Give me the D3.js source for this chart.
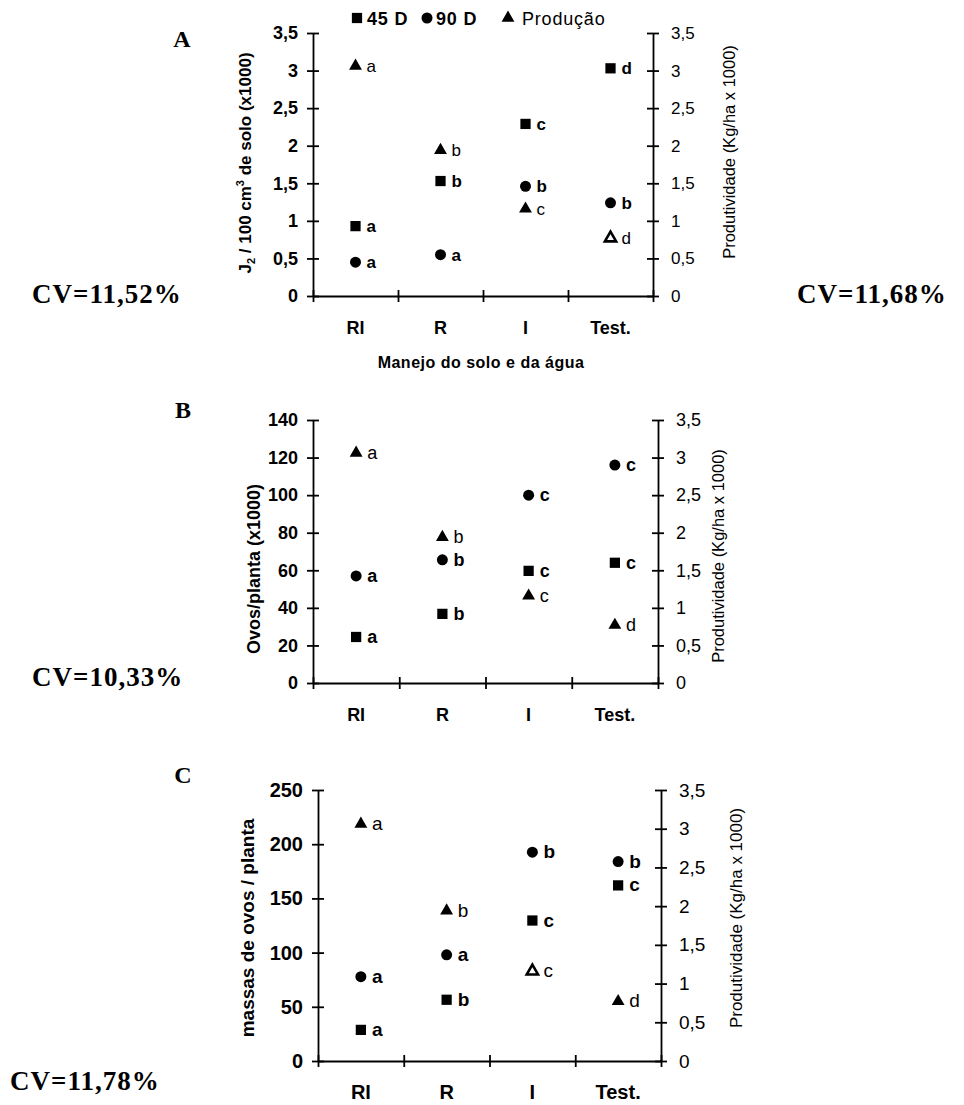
<!DOCTYPE html>
<html>
<head>
<meta charset="utf-8">
<script src="https://cdn.jsdelivr.net/npm/d3@7"></script>
<style>
body { margin: 0; background: #fff; }
svg { display: block; }
</style>
</head>
<body>
<div id="chart"></div>
<script>
// categorias - manejo do solo e da água
var categories = ["RI", "R", "I", "Test."];

// produção (Kg/ha x 1000) - eixo direito, igual nos 3 painéis
var production = [3.06, 1.94, 1.16, 0.77];
var productionLetters = ["a", "b", "c", "d"];
var rightTicks = [0, 0.5, 1, 1.5, 2, 2.5, 3, 3.5];

// A - J2 / 100 cm3 de solo (x1000)
var j2_45 = [0.93, 1.53, 2.29, 3.03];
var j2_45Letters = ["a", "b", "c", "d"];
var j2_90 = [0.45, 0.55, 1.46, 1.24];
var j2_90Letters = ["a", "a", "b", "b"];
var ticksA = [0, 0.5, 1, 1.5, 2, 2.5, 3, 3.5];

// B - ovos/planta (x1000)
var ovos_45 = [24.5, 36.8, 59.7, 64];
var ovos_45Letters = ["a", "b", "c", "c"];
var ovos_90 = [57, 65.6, 100, 116];
var ovos_90Letters = ["a", "b", "c", "c"];
var ticksB = [0, 20, 40, 60, 80, 100, 120, 140];

// C - massas de ovos / planta
var massas_45 = [28.7, 56.5, 129.6, 162];
var massas_45Letters = ["a", "b", "c", "c"];
var massas_90 = [77.8, 98, 192.6, 184];
var massas_90Letters = ["a", "a", "b", "b"];
var ticksC = [0, 50, 100, 150, 200, 250];

var cvLabels = ["CV=11,52%", "CV=11,68%", "CV=10,33%", "CV=11,78%"];

var sans = "'Liberation Sans', Arial, sans-serif";
var serif = "'Liberation Serif', 'Times New Roman', serif";

var svg = d3.select("#chart")
    .append("svg")
    .attr("width", 964)
    .attr("height", 1105);

svg.append("rect").attr("width", 964).attr("height", 1105).attr("fill", "#fff");

var comma = d => String(d).replace(".", ",");

// hollow = triangles printed as outline in the scan
var panels = [
    { name: "A", left: 313, right: 653, top: 33, bottom: 296, ticks: ticksA,
      s45: j2_45, l45: j2_45Letters, s90: j2_90, l90: j2_90Letters, hollow: [3],
      fs: 17, catFs: 18, leftFs: 18, rightFs: 17,
      yLabelX: 245, yLabelY: 163, yLabelFs: 17,
      rLabelX: 729, rLabelY: 152, rLabelFs: 16.5,
      letterX: 182, letterY: 47 },
    { name: "B", left: 313, right: 658, top: 420, bottom: 683, ticks: ticksB,
      s45: ovos_45, l45: ovos_45Letters, s90: ovos_90, l90: ovos_90Letters, hollow: [],
      fs: 18, catFs: 18, leftFs: 18, rightFs: 18,
      yLabelX: 254, yLabelY: 569, yLabelFs: 18,
      rLabelX: 718, rLabelY: 556, rLabelFs: 16.5,
      letterX: 183, letterY: 418 },
    { name: "C", left: 318, right: 661, top: 790, bottom: 1061, ticks: ticksC,
      s45: massas_45, l45: massas_45Letters, s90: massas_90, l90: massas_90Letters, hollow: [2],
      fs: 19, catFs: 20, leftFs: 20, rightFs: 19,
      yLabelX: 247, yLabelY: 928, yLabelFs: 19,
      rLabelX: 736, rLabelY: 918, rLabelFs: 17,
      letterX: 183, letterY: 783 }
];

var yLabels = ["Ovos/planta (x1000)", "massas de ovos / planta"];

panels.forEach(function (p, i) {
    var g = svg.append("g");
    var y = d3.scaleLinear().domain([0, d3.max(p.ticks)]).range([p.bottom, p.top]);
    var yr = d3.scaleLinear().domain([0, 3.5]).range([p.bottom, p.top]);
    var xEdge = d3.scaleLinear().domain([0, categories.length]).range([p.left, p.right]);
    var x = d3.scaleBand().domain(categories).range([p.left, p.right]);

    // left axis
    var la = g.append("g")
        .attr("transform", `translate(${p.left},0)`)
        .call(d3.axisLeft(y).tickValues(p.ticks).tickSize(6).tickSizeOuter(0).tickPadding(9).tickFormat(comma));
    la.selectAll(".tick line").attr("x1", 6);
    la.selectAll("text").attr("font-family", sans).attr("font-weight", "bold")
        .attr("font-size", p.leftFs).attr("fill", "#000");

    // right axis
    var ra = g.append("g")
        .attr("transform", `translate(${p.right},0)`)
        .call(d3.axisRight(yr).tickValues(rightTicks).tickSize(6).tickSizeOuter(0).tickPadding(12).tickFormat(comma));
    ra.selectAll(".tick line").attr("x1", -6);
    ra.selectAll("text").attr("font-family", sans)
        .attr("font-size", p.rightFs).attr("fill", "#000");

    // x axis
    var xa = g.append("g")
        .attr("transform", `translate(0,${p.bottom})`)
        .call(d3.axisBottom(xEdge).tickValues(d3.range(categories.length + 1)).tickSize(6).tickSizeOuter(0).tickFormat(""));
    xa.selectAll(".tick line").attr("y1", -6);

    g.selectAll(".domain, .tick line").attr("stroke", "#000").attr("stroke-width", 1.8);

    g.selectAll(".cat")
        .data(categories)
        .enter()
        .append("text")
        .attr("class", "cat")
        .attr("x", d => x(d) + x.bandwidth() / 2)
        .attr("y", p.bottom + 38)
        .attr("text-anchor", "middle")
        .attr("font-family", sans)
        .attr("font-weight", "bold")
        .attr("font-size", p.catFs)
        .text(d => d);

    // markers
    var series = [
        { vals: production, letters: productionLetters, sym: d3.symbolTriangle, size: 72, scale: yr, bold: false, hollow: p.hollow },
        { vals: p.s90, letters: p.l90, sym: d3.symbolCircle, size: 95, scale: y, bold: true, hollow: [] },
        { vals: p.s45, letters: p.l45, sym: d3.symbolSquare, size: 105, scale: y, bold: true, hollow: [] }
    ];
    series.forEach(function (s) {
        var pts = s.vals.map((v, k) => ({ k: k, cat: categories[k], v: v, letter: s.letters[k] }));
        g.selectAll(null)
            .data(pts)
            .enter()
            .append("path")
            .attr("d", d => d3.symbol().type(s.sym).size(s.hollow.includes(d.k) ? 55 : s.size)())
            .attr("transform", d => `translate(${x(d.cat) + x.bandwidth() / 2},${s.scale(d.v)})`)
            .attr("fill", d => s.hollow.includes(d.k) ? "#fff" : "#000")
            .attr("stroke", "#000")
            .attr("stroke-width", d => s.hollow.includes(d.k) ? 2.6 : 0);
        g.selectAll(null)
            .data(pts)
            .enter()
            .append("text")
            .attr("x", d => x(d.cat) + x.bandwidth() / 2 + 11)
            .attr("y", d => s.scale(d.v) + 6)
            .attr("font-family", sans)
            .attr("font-weight", s.bold ? "bold" : "normal")
            .attr("font-size", p.fs)
            .text(d => d.letter);
    });

    // axis titles
    var yl = g.append("text")
        .attr("transform", `translate(${p.yLabelX},${p.yLabelY}) rotate(-90)`)
        .attr("dy", "0.35em")
        .attr("text-anchor", "middle")
        .attr("font-family", sans)
        .attr("font-weight", "bold")
        .attr("font-size", p.yLabelFs);
    if (i === 0) {
        yl.append("tspan").text("J");
        yl.append("tspan").attr("font-size", 11).attr("dy", 4).text("2");
        yl.append("tspan").attr("dy", -4).text(" / 100 cm");
        yl.append("tspan").attr("font-size", 11).attr("dy", -7).text("3");
        yl.append("tspan").attr("dy", 7).text(" de solo (x1000)");
    } else {
        yl.text(yLabels[i - 1]);
    }

    g.append("text")
        .attr("transform", `translate(${p.rLabelX},${p.rLabelY}) rotate(-90)`)
        .attr("dy", "0.35em")
        .attr("text-anchor", "middle")
        .attr("font-family", sans)
        .attr("font-size", p.rLabelFs)
        .text("Produtividade (Kg/ha x 1000)");

    g.append("text")
        .attr("x", p.letterX)
        .attr("y", p.letterY)
        .attr("text-anchor", "middle")
        .attr("font-family", serif)
        .attr("font-weight", "bold")
        .attr("font-size", 24)
        .text(p.name);
});

// x axis title (panel A)
svg.append("text")
    .attr("x", 481)
    .attr("y", 368)
    .attr("text-anchor", "middle")
    .attr("font-family", sans)
    .attr("font-weight", "bold")
    .attr("font-size", 16)
    .attr("letter-spacing", 0.5)
    .text("Manejo do solo e da água");

// legend
var legend = [
    { sym: d3.symbolSquare, size: 105, label: "45 D", bold: true, sx: 357, tx: 367 },
    { sym: d3.symbolCircle, size: 95, label: "90 D", bold: true, sx: 427, tx: 436 },
    { sym: d3.symbolTriangle, size: 72, label: "Produção", bold: false, sx: 508, tx: 522 }
];
legend.forEach(function (l) {
    svg.append("path")
        .attr("d", d3.symbol().type(l.sym).size(l.size))
        .attr("transform", `translate(${l.sx},18)`)
        .attr("fill", "#000");
    svg.append("text")
        .attr("x", l.tx)
        .attr("y", 25)
        .attr("font-family", sans)
        .attr("font-weight", l.bold ? "bold" : "normal")
        .attr("font-size", 18)
        .attr("letter-spacing", 0.8)
        .text(l.label);
});

// CV texts
var cvPos = [[32, 303], [797, 303], [32, 686], [10, 1090]];
cvLabels.forEach(function (t, k) {
    svg.append("text")
        .attr("x", cvPos[k][0])
        .attr("y", cvPos[k][1])
        .attr("font-family", serif)
        .attr("font-weight", "bold")
        .attr("font-size", 27)
        .attr("letter-spacing", 1)
        .text(t);
});
</script>
</body>
</html>
